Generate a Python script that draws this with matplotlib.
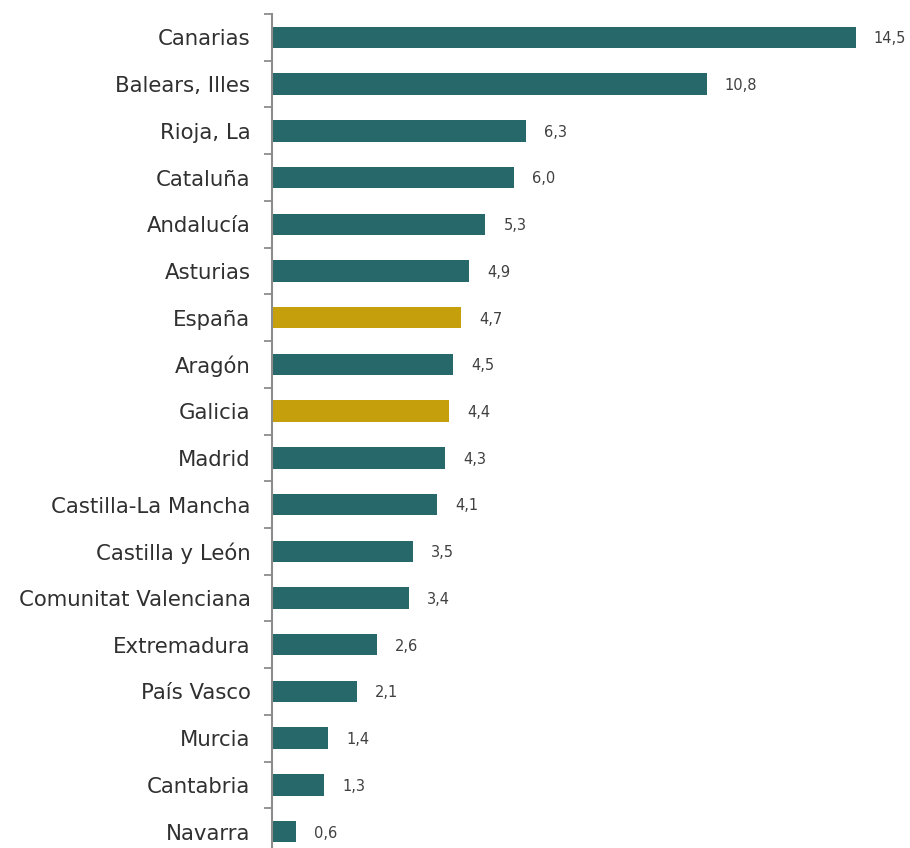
import matplotlib
matplotlib.use("Agg")
import matplotlib.pyplot as plt

categories = ["Canarias", "Balears, Illes", "Rioja, La", "Cataluña", "Andalucía",
              "Asturias", "España", "Aragón", "Galicia", "Madrid",
              "Castilla-La Mancha", "Castilla y León", "Comunitat Valenciana",
              "Extremadura", "País Vasco", "Murcia", "Cantabria", "Navarra"]
values = [14.5, 10.8, 6.3, 6.0, 5.3, 4.9, 4.7, 4.5, 4.4, 4.3, 4.1, 3.5, 3.4,
          2.6, 2.1, 1.4, 1.3, 0.6]
highlight = ["España", "Galicia"]

TEAL = "#27686a"
GOLD = "#c6a00c"

plt.rcParams['font.family'] = ['DejaVu Sans']

fig = plt.figure(figsize=(9.10, 8.48), dpi=100)
ax = fig.add_axes([272/910, -7/848, 624/910, 841/848])

ys = list(range(len(categories)))
colors = [GOLD if c in highlight else TEAL for c in categories]
ax.barh(ys, values, height=0.46, color=colors, zorder=2)

for y, v in zip(ys, values):
    ax.annotate(f"{v:.1f}".replace(".", ","), xy=(v, y), xytext=(13, -1),
                textcoords="offset points", va="center", ha="left",
                fontsize=10.5, color="#404040")

ax.set_ylim(len(categories) - 0.5, -0.5)
ax.set_xlim(0, 15.5)
ax.set_yticks([y for y in ys])
ax.set_yticklabels(categories, fontsize=15.3, color="#303030")
ax.set_yticks([y - 0.5 for y in ys] + [len(ys) - 0.5], minor=True)
ax.tick_params(axis="y", which="major", length=0, pad=15.5)
ax.tick_params(axis="y", which="minor", length=6, width=1.3, color="#8c8c8c")
ax.set_xticks([])
for s in ["top", "right", "bottom"]:
    ax.spines[s].set_visible(False)
ax.spines["left"].set_color("#8c8c8c")
ax.spines["left"].set_linewidth(1.5)

fig.savefig("out.png", dpi=100)
